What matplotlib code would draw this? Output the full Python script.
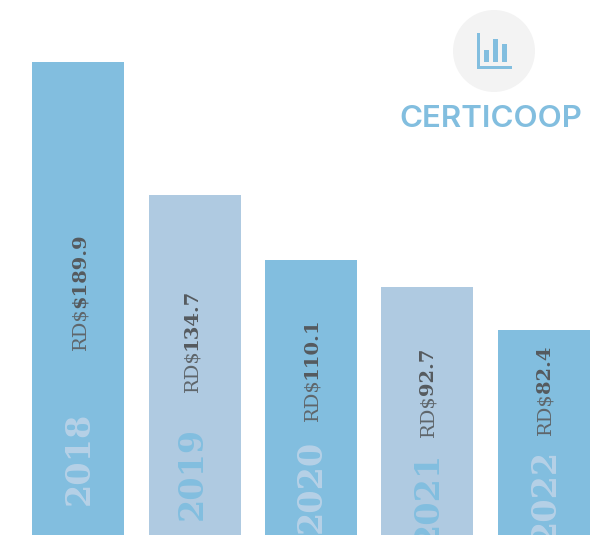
import matplotlib
matplotlib.use("Agg")
import matplotlib.pyplot as plt
from matplotlib.patches import Circle, Rectangle

years = ["2018", "2019", "2020", "2021", "2022"]
prefixes = ["RD$", "RD$", "RD$", "RD$", "RD$"]
value_labels = ["$189.9", "134.7", "110.1", "92.7", "82.4"]
# Bar lengths as drawn in the picture (not strictly proportional to the labels)
drawn_values = [189.9, 136.5, 110.4, 99.6, 82.3]

DARK = "#82BEDF"
LIGHT = "#AFCAE1"
W, H = 602, 535
SERIF = "DejaVu Serif"
TXT = "#5F666B"

fig = plt.figure(figsize=(W / 100, H / 100), dpi=100, facecolor="white")
ax = fig.add_axes([0, 0, 1, 1])
step = 116.4
x0 = 78.2
ax.set_xlim(-x0 / step, (W - x0) / step)
ax.set_ylim(0, 189.9 * H / 473)
ax.axis("off")

bar_colors = [DARK, LIGHT, DARK, LIGHT, DARK]
xs = list(range(len(years)))
ax.bar(xs, drawn_values, width=92 / step, color=bar_colors, linewidth=0)

# overlay in pixel coordinates for text placement and the logo
ov = fig.add_axes([0, 0, 1, 1], facecolor="none")
ov.set_xlim(0, W)
ov.set_ylim(H, 0)
ov.axis("off")

year_x = [79, 192, 311, 428, 545]
year_bottom = [505, 520, 533, 545, 542]
year_colors = ["#B6D1E7", DARK, "#B6D1E7", DARK, "#B6D1E7"]
label_x = [80, 192, 312, 428, 545]
label_bottom = [350, 392, 421, 437, 435]
prefix_len = [42, 42, 42, 42, 42]

for i in xs:
    ov.text(year_x[i], year_bottom[i], years[i], rotation=90, ha="center", va="bottom",
            family=SERIF, weight="bold", fontsize=24, color=year_colors[i], clip_on=True)
    ov.text(label_x[i], label_bottom[i], prefixes[i], rotation=90, ha="center", va="bottom",
            family=SERIF, fontsize=14, color=TXT)
    ov.text(label_x[i], label_bottom[i] - prefix_len[i], value_labels[i], rotation=90,
            ha="center", va="bottom", family=SERIF, weight="bold", fontsize=14, color="#555A5E")

# logo
ov.add_patch(Circle((494, 51), 41, facecolor="#F3F3F3", edgecolor="none"))
ICON = "#82BEDF"
ov.add_patch(Rectangle((477, 33), 3, 36, facecolor=ICON, edgecolor="none"))
ov.add_patch(Rectangle((477, 66), 35, 3, facecolor=ICON, edgecolor="none"))
for x, top in [(484, 50), (493, 39), (502, 44)]:
    ov.add_patch(Rectangle((x, top), 5, 62 - top, facecolor=ICON, edgecolor="none"))
ov.text(491, 119, "CERTICOOP", ha="center", va="center", family="Inter", weight="semibold",
        fontsize=22.5, color=ICON)

fig.savefig("out.png", dpi=100)
